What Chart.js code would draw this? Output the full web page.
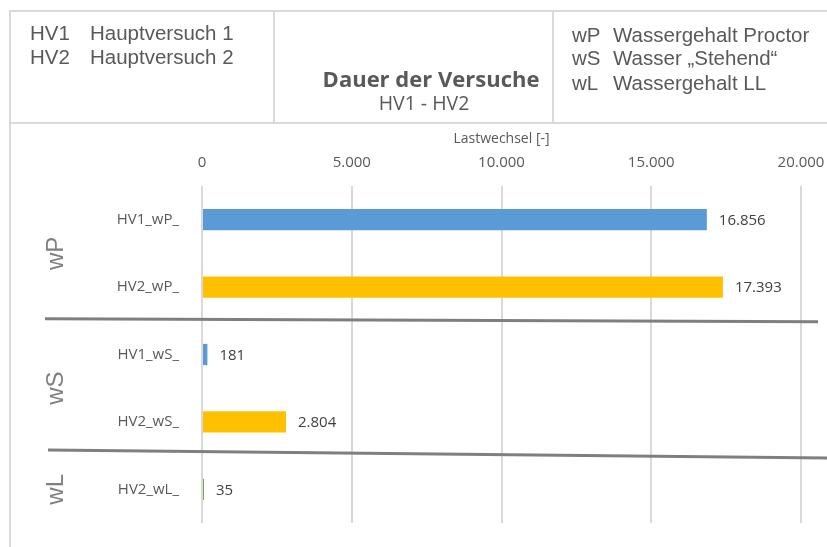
<!DOCTYPE html>
<html>
<head>
<meta charset="utf-8">
<script src="https://cdn.jsdelivr.net/npm/chart.js@4.4.1/dist/chart.umd.min.js"></script>
<style>
  body { margin: 0; background: #fff; }
  #wrap { position: relative; width: 827px; height: 547px; overflow: hidden; background: #fff;
          font-family: "Liberation Sans", Arial, sans-serif; color: #595959; }
  #chart { position: absolute; left: 0; top: 0; }
  .rule { position: absolute; background: #d9d9d9; }
  .txt { position: absolute; white-space: nowrap; font-size: 20.5px; line-height: 20.5px; }
  .head { position: absolute; white-space: nowrap; font-family: "Open Sans", sans-serif; transform: translateX(-50%); }
</style>
</head>
<body>
<div id="wrap">
  <canvas id="chart" width="827" height="547"></canvas>

  <!-- table frame around the header -->
  <div class="rule" style="left:9px; top:10px; width:818px; height:2px;"></div>
  <div class="rule" style="left:9px; top:10px; width:2px; height:537px;"></div>
  <div class="rule" style="left:9px; top:122px; width:818px; height:2px;"></div>
  <div class="rule" style="left:273px; top:10px; width:2px; height:114px;"></div>
  <div class="rule" style="left:552px; top:10px; width:2px; height:114px;"></div>

  <!-- abbreviations, left cell -->
  <div class="txt" style="left:30px; top:23px;">HV1</div>
  <div class="txt" style="left:90px; top:23px;">Hauptversuch 1</div>
  <div class="txt" style="left:30px; top:47px;">HV2</div>
  <div class="txt" style="left:90px; top:47px;">Hauptversuch 2</div>

  <!-- title cell -->
  <div class="head" style="left:431px; top:67px; font-size:22px; line-height:22px; font-weight:bold;">Dauer der Versuche</div>
  <div class="head" style="left:424px; top:93px; font-size:19.5px; line-height:19.5px;">HV1 - HV2</div>

  <!-- abbreviations, right cell -->
  <div class="txt" style="left:572px; top:25px;">wP</div>
  <div class="txt" style="left:613px; top:25px;">Wassergehalt Proctor</div>
  <div class="txt" style="left:572px; top:48px;">wS</div>
  <div class="txt" style="left:613px; top:48px;">Wasser „Stehend“</div>
  <div class="txt" style="left:572px; top:73px;">wL</div>
  <div class="txt" style="left:613px; top:73px;">Wassergehalt LL</div>
</div>

<script>
// Versuche und erreichte Lastwechsel
const categories = ['HV1_wP_', 'HV2_wP_', 'HV1_wS_', 'HV2_wS_', 'HV2_wL_'];
const lastwechsel = [16856, 17393, 181, 2804, 35];
const barColors = ['#5B9BD5', '#FFC000', '#5B9BD5', '#FFC000', '#70AD47'];

// Achse
const xTicks = [0, 5000, 10000, 15000, 20000];

// Gruppen (Wassergehalt) mit erstem und letztem Balken
const groupNames = ['wP', 'wS', 'wL'];
const groupFirst = [0, 2, 4];
const groupLast = [1, 3, 4];

function formatDE(v) {
  return String(v).replace(/\B(?=(\d{3})+(?!\d))/g, '.');
}

const labelFont = '"Open Sans", sans-serif';

// Werte rechts neben den Balken
const barValues = {
  id: 'barValues',
  afterDatasetsDraw(chart) {
    const ctx = chart.ctx;
    const meta = chart.getDatasetMeta(0);
    ctx.save();
    ctx.font = '15px ' + labelFont;
    ctx.fillStyle = '#404040';
    ctx.textAlign = 'left';
    ctx.textBaseline = 'middle';
    meta.data.forEach(function(bar, i) {
      ctx.fillText(formatDE(lastwechsel[i]), bar.x + 12, bar.y + 1);
    });
    ctx.restore();
  }
};

// Trennlinien und gedrehte Gruppennamen
const groupMarks = {
  id: 'groupMarks',
  afterDraw(chart) {
    const ctx = chart.ctx;
    const y = chart.scales.y;
    ctx.save();

    // leicht schief gezogene Linien zwischen den Gruppen
    const lineEnds = [[45, 818, -2, 1], [48, 827, -5.5, 2.5]];
    ctx.strokeStyle = '#7f7f7f';
    ctx.lineWidth = 3;
    for (let g = 0; g < groupNames.length - 1; g++) {
      const mid = (y.getPixelForValue(groupLast[g]) + y.getPixelForValue(groupFirst[g + 1])) / 2;
      const e = lineEnds[g];
      ctx.beginPath();
      ctx.moveTo(e[0], mid + e[2]);
      ctx.lineTo(e[1], mid + e[3]);
      ctx.stroke();
    }

    ctx.fillStyle = '#7f7f7f';
    ctx.font = '24px "Liberation Sans", Arial, sans-serif';
    ctx.textAlign = 'center';
    ctx.textBaseline = 'alphabetic';
    for (let g = 0; g < groupNames.length; g++) {
      const mid = (y.getPixelForValue(groupFirst[g]) + y.getPixelForValue(groupLast[g])) / 2;
      ctx.save();
      ctx.translate(63, mid);
      ctx.rotate(-Math.PI / 2);
      ctx.fillText(groupNames[g], 0, 0);
      ctx.restore();
    }
    ctx.restore();
  }
};

const ctx = document.getElementById('chart').getContext('2d');

new Chart(ctx, {
  type: 'bar',
  data: {
    labels: categories,
    datasets: [{
      label: 'Lastwechsel',
      data: lastwechsel,
      backgroundColor: barColors,
      borderWidth: 0,
      barPercentage: 0.315,
      categoryPercentage: 1,
      minBarLength: 2
    }]
  },
  options: {
    indexAxis: 'y',
    responsive: false,
    animation: false,
    layout: { padding: { top: 125, right: 26, bottom: 10, left: 0 } },
    plugins: {
      legend: { display: false },
      tooltip: { enabled: false }
    },
    scales: {
      x: {
        position: 'top',
        min: xTicks[0],
        max: xTicks[xTicks.length - 1],
        afterBuildTicks: function(scale) {
          scale.ticks = xTicks.map(function(v) { return { value: v }; });
        },
        ticks: {
          padding: 14,
          color: '#595959',
          font: { family: labelFont, size: 15 },
          callback: function(v) { return formatDE(v); }
        },
        grid: { color: '#d9d9d9', lineWidth: 2, drawTicks: false },
        border: { display: false },
        title: {
          display: true,
          text: 'Lastwechsel [-]',
          color: '#595959',
          font: { family: labelFont, size: 14 },
          padding: { top: 6, bottom: 0 }
        },
        afterFit: function(scale) {
          scale.height = 61;
          scale.paddingLeft = 0;
          scale.paddingRight = 0;
        }
      },
      y: {
        ticks: {
          padding: 15,
          color: '#595959',
          font: { family: labelFont, size: 15 }
        },
        grid: { display: false },
        border: { display: false },
        afterFit: function(scale) { scale.width = 202; }
      }
    }
  },
  plugins: [barValues, groupMarks]
});
</script>
</body>
</html>
